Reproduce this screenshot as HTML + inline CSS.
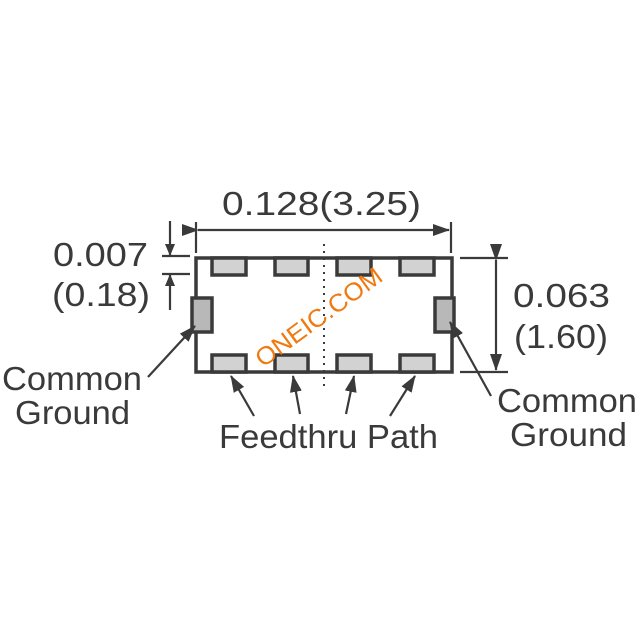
<!DOCTYPE html>
<html><head><meta charset="utf-8"><style>html,body{margin:0;padding:0;background:#fff}svg{display:block}</style></head>
<body>
<svg width="640" height="640" viewBox="0 0 640 640" xmlns="http://www.w3.org/2000/svg">
<defs>
<marker id="a" markerWidth="12" markerHeight="10" refX="11" refY="5" orient="auto" markerUnits="userSpaceOnUse" viewBox="0 0 12 10"><path d="M0,0 L12,5 L0,10 Z" fill="#3a3a3a"/></marker>
<marker id="b" markerWidth="17" markerHeight="12" refX="16" refY="6" orient="auto" markerUnits="userSpaceOnUse" viewBox="0 0 17 12"><path d="M0,0 L17,6 L0,12 Z" fill="#3a3a3a"/></marker>
</defs>
<g fill="none" stroke="#3a3a3a" stroke-width="3.5">
<rect x="196" y="258" width="256" height="114"/>
</g>
<g fill="#d2d2d2" stroke="#3a3a3a" stroke-width="3.5">
<rect x="212" y="258" width="34" height="17"/>
<rect x="275" y="258" width="33" height="17"/>
<rect x="337" y="258" width="34" height="17"/>
<rect x="400" y="258" width="34" height="17"/>
<rect x="212" y="355" width="34" height="17"/>
<rect x="275" y="355" width="33" height="17"/>
<rect x="337" y="355" width="34" height="17"/>
<rect x="400" y="355" width="34" height="17"/>
</g>
<g fill="#b8b8b8" stroke="#3a3a3a" stroke-width="3.5">
<rect x="192" y="298" width="20" height="34"/>
<rect x="435" y="298" width="19" height="34"/>
</g>
<line x1="324" y1="244" x2="324" y2="390" stroke="#3a3a3a" stroke-width="2" stroke-dasharray="2,5"/>
<g stroke="#3a3a3a" stroke-width="2.2" fill="none">
<line x1="196" y1="222" x2="196" y2="253"/>
<line x1="451" y1="222" x2="451" y2="253"/>
<line x1="198" y1="230" x2="449" y2="230" marker-end="url(#b)" marker-start="url(#b)"/>
<line x1="162" y1="256" x2="190" y2="256"/>
<line x1="162" y1="274" x2="190" y2="274"/>
<line x1="170" y1="221" x2="170" y2="255" marker-end="url(#a)"/>
<line x1="170" y1="310" x2="170" y2="275" marker-end="url(#a)"/>
<line x1="460" y1="258" x2="508" y2="258"/>
<line x1="460" y1="372" x2="508" y2="372"/>
<line x1="496" y1="260" x2="496" y2="370" marker-end="url(#b)" marker-start="url(#b)"/>
<line x1="148" y1="377" x2="195" y2="326" marker-end="url(#b)"/>
<line x1="491" y1="396" x2="450" y2="322" marker-end="url(#b)"/>
<line x1="254" y1="416" x2="231" y2="376" marker-end="url(#b)"/>
<line x1="300" y1="414" x2="293" y2="376" marker-end="url(#b)"/>
<line x1="346" y1="414" x2="354" y2="376" marker-end="url(#b)"/>
<line x1="390" y1="416" x2="415" y2="376" marker-end="url(#b)"/>
</g>
<g font-family="Liberation Sans, sans-serif" font-size="33" fill="#3a3a3a">
<text x="222" y="215" textLength="199" lengthAdjust="spacingAndGlyphs">0.128(3.25)</text>
<text x="53" y="266" textLength="95" lengthAdjust="spacingAndGlyphs">0.007</text>
<text x="52" y="306" textLength="98" lengthAdjust="spacingAndGlyphs">(0.18)</text>
<text x="513" y="307" textLength="97" lengthAdjust="spacingAndGlyphs">0.063</text>
<text x="514" y="348" textLength="94" lengthAdjust="spacingAndGlyphs">(1.60)</text>
<text x="2" y="390" textLength="140" lengthAdjust="spacingAndGlyphs">Common</text>
<text x="15" y="424" textLength="115" lengthAdjust="spacingAndGlyphs">Ground</text>
<text x="497" y="412" textLength="140" lengthAdjust="spacingAndGlyphs">Common</text>
<text x="510" y="446" textLength="117" lengthAdjust="spacingAndGlyphs">Ground</text>
<text x="219" y="448" textLength="219" lengthAdjust="spacingAndGlyphs">Feedthru Path</text>
</g>
<text x="0" y="0" font-family="Liberation Sans, sans-serif" font-size="25" fill="#f07a10" transform="translate(263,368) rotate(-36)" textLength="150" lengthAdjust="spacingAndGlyphs">ONEIC.COM</text>
</svg>
</body></html>
